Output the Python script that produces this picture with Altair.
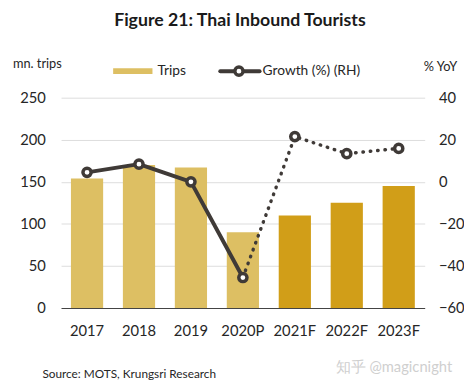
import altair as alt
import pandas as pd

years = ["2017", "2018", "2019", "2020P", "2021F", "2022F", "2023F"]
trips = [154, 170, 167, 90, 110, 125, 145]
growth = [4.5, 8.4, 0.0, -45.5, 21.5, 13.4, 15.9]
kind = ["Actual", "Actual", "Actual", "Actual", "Forecast", "Forecast", "Forecast"]
seg_solid = [True, True, True, True, False, False, False]
seg_dotted = [False, False, False, True, True, True, True]

FONT = "Lato"
DARK = "#3F3A37"
LIGHT = "#DDBF63"
FORE = "#D19E18"

df = pd.DataFrame({"year": years, "trips": trips, "growth": growth, "kind": kind,
                   "solid": seg_solid, "dotted": seg_dotted})

x_enc = alt.X("year:N", sort=years,
              scale=alt.Scale(paddingInner=0.38, paddingOuter=0.19),
              axis=alt.Axis(title=None, labelAngle=0, labelFontSize=15, labelFont=FONT,
                            labelColor="#262626", labelPadding=16, ticks=False,
                            domainColor="#404040", domainWidth=1, grid=False))

bars = alt.Chart(df).mark_bar().encode(
    x=x_enc,
    y=alt.Y("trips:Q", scale=alt.Scale(domain=[0, 250], nice=False),
            axis=alt.Axis(title=None, values=[0, 50, 100, 150, 200, 250], orient="left",
                          labelFontSize=15, labelFont=FONT, labelColor="#262626",
                          labelPadding=16, ticks=False, domain=False,
                          grid=True, gridColor="#DCDCDC", gridWidth=1)),
    color=alt.Color("kind:N", scale=alt.Scale(domain=["Actual", "Forecast"], range=[LIGHT, FORE]),
                    legend=None),
)

y_g = alt.Y("growth:Q", scale=alt.Scale(domain=[-60, 40], nice=False),
            axis=alt.Axis(title=None, values=[-60, -40, -20, 0, 20, 40], orient="right",
                          labelFontSize=15, labelFont=FONT, labelColor="#262626",
                          labelPadding=14, ticks=False, domain=False, grid=False))

line_solid = alt.Chart(df).transform_filter("datum.solid").mark_line(
    color=DARK, strokeWidth=4, strokeCap="round", strokeJoin="round").encode(x=x_enc, y=y_g)
line_dot = alt.Chart(df).transform_filter("datum.dotted").mark_line(
    color=DARK, strokeWidth=3.5, strokeDash=[0.5, 7], strokeCap="round").encode(x=x_enc, y=y_g)
pts = alt.Chart(df).mark_point(filled=True, fill="white", stroke=DARK, strokeWidth=3.5,
                               size=70, opacity=1).encode(x=x_enc, y=y_g)

growth_layer = alt.layer(line_solid, line_dot, pts)

one = pd.DataFrame({"a": [0]})

def txt(s, x, y, size=13, weight="normal", align="left", color="#262626"):
    return alt.Chart(one).mark_text(text=s, font=FONT, fontSize=size, fontWeight=weight,
                                    align=align, baseline="middle", color=color).encode(
        x=alt.value(x), y=alt.value(y))

title = txt("Figure 21: Thai Inbound Tourists", 182, -78, size=18, weight="bold", align="center", color="#1a1a1a")
ylab_l = txt("mn. trips", -49, -34, size=13)
ylab_r = txt("% YoY", 403, -31, size=13, align="right")
source = txt("Source: MOTS, Krungsri Research", -19, 281, size=12)
watermark = txt("知乎 @magicnight", 398, 274, size=15, align="right", color="#CFCFCF")

leg_rect = alt.Chart(one).mark_rect(color=LIGHT).encode(
    x=alt.value(53), x2=alt.value(93), y=alt.value(-30), y2=alt.value(-24))
leg_trips = txt("Trips", 98, -27, size=14)
leg_line = alt.Chart(one).mark_rule(color=DARK, strokeWidth=4, strokeCap="round").encode(
    x=alt.value(162), x2=alt.value(202), y=alt.value(-27))
leg_pt = alt.Chart(one).mark_point(filled=True, fill="white", stroke=DARK, strokeWidth=3.5,
                                   size=70, opacity=1).encode(x=alt.value(181), y=alt.value(-27))
leg_growth = txt("Growth (%) (RH)", 205, -27, size=14)

chart = alt.layer(
    bars, growth_layer, title, ylab_l, ylab_r, source, watermark,
    leg_rect, leg_trips, leg_line, leg_pt, leg_growth
).resolve_scale(y="independent", color="independent").properties(
    width=370, height=214,
    autosize="none",
    padding={"left": 54, "top": 88, "right": 40, "bottom": 72},
    background="white",
).configure_view(stroke=None)

chart.save("out.html", embed_options={"renderer": "svg", "actions": False})
